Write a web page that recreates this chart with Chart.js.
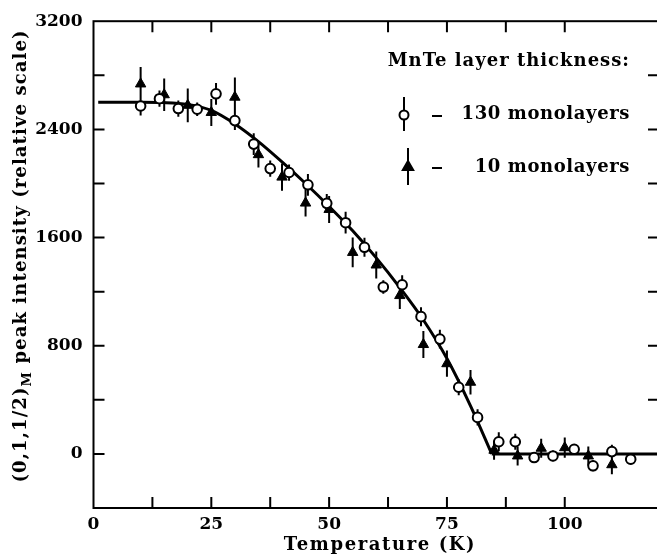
<!DOCTYPE html>
<html>
<head>
<meta charset="utf-8">
<script src="https://cdn.jsdelivr.net/npm/chart.js@4/dist/chart.umd.min.js"></script>
<style>
html, body { margin: 0; padding: 0; background: #fff; overflow: hidden; }
#wrap { width: 657px; height: 558px; overflow: hidden; }
canvas { display: block; }
</style>
</head>
<body>
<div id="wrap"><canvas id="chart" width="666" height="558"></canvas></div>
<script>
// 130 monolayers (open circles)
const temps130 = [10, 14, 18, 22, 26, 30, 34, 37.5, 41.5, 45.5, 49.5, 53.5, 57.5, 61.5, 65.5, 69.5, 73.5, 77.5, 81.5, 86, 89.5, 93.5, 97.5, 102, 106, 110, 114];
const intensity130 = [2573, 2627, 2554, 2549, 2663, 2465, 2291, 2110, 2081, 1990, 1853, 1710, 1528, 1234, 1251, 1015, 849, 493, 270, 90, 90, -27, -15, 34, -88, 17, -39];
const err130 = [70, 60, 60, 50, 80, 70, 80, 60, 60, 80, 70, 80, 70, 50, 70, 70, 70, 60, 60, 70, 60, 40, 40, 40, 40, 50, 40];

// 10 monolayers (filled triangles)
const temps10 = [10, 15, 20, 25, 30, 35, 40, 45, 50, 55, 60, 65, 70, 75, 80, 85, 90, 95, 100, 105, 110];
const intensity10 = [2736, 2656, 2578, 2525, 2638, 2213, 2047, 1855, 1808, 1490, 1397, 1171, 809, 667, 530, 27, -15, 42, 46, -15, -80];
const err10 = [125, 120, 125, 100, 145, 95, 100, 100, 100, 110, 100, 100, 100, 97, 90, 70, 70, 70, 75, 70, 70];

// solid fitted curve: ordered phase, then zero above the transition
const fitTemps = [1, 5, 10, 15, 20, 25, 30, 35, 40, 45, 50, 55, 60, 65, 70, 75, 80, 84.5];
const fitValues = [2600, 2600, 2600, 2598, 2585, 2540, 2440, 2310, 2160, 2000, 1830, 1650, 1450, 1230, 990, 705, 355, 0];
const flatTemps = [84.5, 120];
const flatValues = [0, 0];

const yLabelTicks = [0, 800, 1600, 2400, 3200];
const xLabelTicks = [0, 25, 50, 75, 100];

const FONT = 'DejaVu Serif';
Chart.defaults.font.family = FONT;
Chart.defaults.font.weight = 'bold';
Chart.defaults.font.size = 17;
Chart.defaults.color = '#000';

const toPoints = (xs, ys) => xs.map((x, i) => ({ x: x, y: ys[i] }));

const errorBars = {
    id: 'errorBars',
    beforeDatasetsDraw(chart) {
        const ctx = chart.ctx;
        const y = chart.scales.y;
        ctx.save();
        ctx.strokeStyle = '#000';
        ctx.lineWidth = 2;
        ctx.beginPath();
        chart.data.datasets.forEach((ds, i) => {
            if (!ds.errors) return;
            const meta = chart.getDatasetMeta(i);
            meta.data.forEach((pt, j) => {
                const v = ds.data[j].y, e = ds.errors[j];
                ctx.moveTo(pt.x, y.getPixelForValue(v + e));
                ctx.lineTo(pt.x, y.getPixelForValue(v - e));
            });
        });
        ctx.stroke();
        ctx.restore();
    }
};

const frameTicks = {
    id: 'frameTicks',
    afterDatasetsDraw(chart) {
        const { ctx, chartArea: a, scales: { x, y } } = chart;
        const len = 11;
        ctx.save();
        ctx.strokeStyle = '#000';
        ctx.lineWidth = 2;
        ctx.strokeRect(a.left, a.top, a.right - a.left, a.bottom - a.top);
        ctx.beginPath();
        x.ticks.forEach(t => {
            if (t.value <= x.min || t.value >= x.max) return;
            const px = x.getPixelForValue(t.value);
            ctx.moveTo(px, a.bottom); ctx.lineTo(px, a.bottom - len);
            ctx.moveTo(px, a.top); ctx.lineTo(px, a.top + len);
        });
        y.ticks.forEach(t => {
            if (t.value <= y.min || t.value >= y.max) return;
            const py = y.getPixelForValue(t.value);
            ctx.moveTo(a.left, py); ctx.lineTo(a.left + len, py);
            ctx.moveTo(a.right, py); ctx.lineTo(a.right - len, py);
        });
        ctx.stroke();
        ctx.restore();
    }
};

const texts = {
    id: 'texts',
    afterDraw(chart) {
        const ctx = chart.ctx;
        const a = chart.chartArea;
        ctx.save();
        ctx.fillStyle = '#000';

        // x axis title
        ctx.font = 'bold 18px "' + FONT + '"';
        ctx.letterSpacing = '1.6px';
        ctx.textAlign = 'center';
        ctx.textBaseline = 'middle';
        ctx.fillText('Temperature (K)', 380, 545);

        // y axis title with subscript M
        const mainFont = 'bold 18px "' + FONT + '"';
        const subFont = 'bold 13px "' + FONT + '"';
        const p1 = '(0,1,1/2)', sub = 'M', p2 = ' peak intensity (relative scale)';
        ctx.letterSpacing = '1.1px';
        ctx.font = mainFont;
        const w1 = ctx.measureText(p1).width, w3 = ctx.measureText(p2).width;
        ctx.font = subFont;
        const w2 = ctx.measureText(sub).width;
        const total = w1 + w2 + w3;
        ctx.translate(21, 256);
        ctx.rotate(-Math.PI / 2);
        ctx.textAlign = 'left';
        ctx.textBaseline = 'middle';
        let cx = -total / 2;
        ctx.font = mainFont;
        ctx.fillText(p1, cx, 0); cx += w1;
        ctx.font = subFont;
        ctx.fillText(sub, cx, 7); cx += w2;
        ctx.font = mainFont;
        ctx.fillText(p2, cx, 0);
        ctx.setTransform(1, 0, 0, 1, 0, 0);

        // legend
        ctx.font = 'bold 18px "' + FONT + '"';
        ctx.textAlign = 'right';
        ctx.textBaseline = 'middle';
        ctx.letterSpacing = '1px';
        ctx.fillText('MnTe layer thickness:', 630, 61);
        ctx.letterSpacing = '0.6px';
        ctx.fillText('130 monolayers', 630, 114);
        ctx.fillText('10 monolayers', 630, 167);
        ctx.letterSpacing = '0px';

        ctx.strokeStyle = '#000';
        ctx.lineWidth = 2;
        ctx.beginPath();
        ctx.moveTo(404, 97); ctx.lineTo(404, 131);
        ctx.moveTo(408, 148); ctx.lineTo(408, 185);
        ctx.moveTo(432, 116); ctx.lineTo(442, 116);
        ctx.moveTo(432, 168); ctx.lineTo(442, 168);
        ctx.stroke();
        ctx.fillStyle = '#fff';
        ctx.beginPath(); ctx.arc(404, 115, 4.5, 0, Math.PI * 2); ctx.fill(); ctx.stroke();
        ctx.fillStyle = '#000';
        Chart.helpers.drawPoint(ctx, { pointStyle: 'triangle', radius: 6, borderWidth: 1 }, 408, 167);
        ctx.restore();
    }
};

new Chart(document.getElementById('chart').getContext('2d'), {
    type: 'scatter',
    data: {
        datasets: [
            {
                label: '130 monolayers',
                data: toPoints(temps130, intensity130),
                errors: err130,
                pointStyle: 'circle',
                pointRadius: 4.8,
                pointBorderWidth: 2,
                backgroundColor: '#fff',
                borderColor: '#000',
                order: 1
            },
            {
                label: '10 monolayers',
                data: toPoints(temps10, intensity10),
                errors: err10,
                pointStyle: 'triangle',
                pointRadius: 6,
                pointBorderWidth: 1,
                backgroundColor: '#000',
                borderColor: '#000',
                order: 2
            },
            {
                label: 'fit',
                data: toPoints(fitTemps, fitValues),
                showLine: true,
                cubicInterpolationMode: 'monotone',
                borderColor: '#000',
                borderWidth: 3,
                pointRadius: 0,
                order: 3
            },
            {
                label: 'fit above transition',
                data: toPoints(flatTemps, flatValues),
                showLine: true,
                borderColor: '#000',
                borderWidth: 3,
                pointRadius: 0,
                order: 4
            }
        ]
    },
    options: {
        responsive: false,
        animation: false,
        devicePixelRatio: 1,
        layout: { padding: { top: 14, right: 1, left: 0, bottom: 0 } },
        plugins: {
            legend: { display: false },
            tooltip: { enabled: false }
        },
        scales: {
            x: {
                type: 'linear',
                min: 0,
                max: 120,
                grid: { display: false, drawTicks: false },
                border: { display: false },
                afterFit: s => { s.height = 50; },
                ticks: {
                    stepSize: 12.5,
                    autoSkip: false,
                    maxRotation: 0,
                    padding: 6,
                    callback: v => xLabelTicks.includes(v) ? String(v) : ''
                }
            },
            y: {
                type: 'linear',
                min: -400,
                max: 3200,
                grid: { display: false, drawTicks: false },
                border: { display: false },
                afterFit: s => { s.width = 93.5; },
                ticks: {
                    stepSize: 400,
                    autoSkip: false,
                    padding: 11,
                    callback: v => yLabelTicks.includes(v) ? String(v) : ''
                }
            }
        }
    },
    plugins: [errorBars, frameTicks, texts]
});
</script>
</body>
</html>
